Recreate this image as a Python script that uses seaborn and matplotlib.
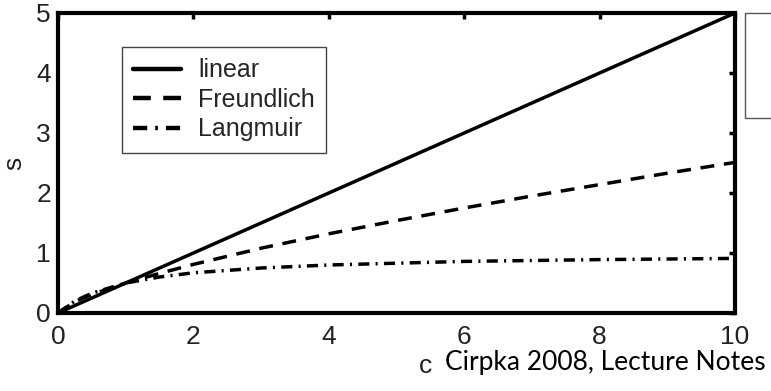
import numpy as np
import pandas as pd
import seaborn as sns
import matplotlib.pyplot as plt
from matplotlib.patches import Rectangle

# values
c_vals = [0, 0.25, 0.5, 1, 1.5, 2, 3, 4, 5, 6, 7, 8, 9, 10]
s_linear = [0, 0.125, 0.25, 0.5, 0.75, 1.0, 1.5, 2.0, 2.5, 3.0, 3.5, 4.0, 4.5, 5.0]
s_freundlich = [0, 0.19, 0.31, 0.5, 0.66, 0.81, 1.08, 1.32, 1.54, 1.75, 1.95, 2.14, 2.33, 2.51]
s_langmuir = [0, 0.2, 0.33, 0.5, 0.6, 0.67, 0.75, 0.8, 0.83, 0.86, 0.875, 0.89, 0.9, 0.91]
names = ['linear', 'Freundlich', 'Langmuir']
x_ticks = [0, 2, 4, 6, 8, 10]
y_ticks = [0, 1, 2, 3, 4, 5]

df = pd.DataFrame({
    'c': c_vals * 3,
    's': s_linear + s_freundlich + s_langmuir,
    'model': [n for n in names for _ in c_vals],
})

sns.set_style('white')
plt.rcParams['font.family'] = ['Liberation Sans', 'DejaVu Sans']

fig = plt.figure(figsize=(7.71, 3.91), dpi=100)
ax = fig.add_axes([58/771, 1-313/391, (735-58)/771, 300/391])

dash_styles = {'linear': '', 'Freundlich': (4, 2.8), 'Langmuir': (3.2, 1.8, 0.6, 1.8)}
sns.lineplot(data=df, x='c', y='s', style='model', dashes=dash_styles,
             color='black', linewidth=2.5, ax=ax)

ax.set_xlim(0, 10)
ax.set_ylim(0, 5)
ax.set_xticks(x_ticks)
ax.set_yticks(y_ticks)
for sp in ax.spines.values():
    sp.set_linewidth(3)
    sp.set_color('black')
    sp.set_visible(True)
ax.tick_params(direction='in', length=4, width=2.5, top=True, right=True,
               labelsize=19, labelcolor='#222222', color='black')
ax.tick_params(axis='x', pad=9)
ax.tick_params(axis='y', pad=5)

ax.set_xlabel('')
ax.set_ylabel('s', fontsize=19, color='#222222')
ax.yaxis.set_label_coords((26-58)/677, 0.5)

leg = ax.legend(loc='upper left', bbox_to_anchor=((122-58)/677, (313-47)/300),
                borderaxespad=0, fontsize=18, frameon=True, fancybox=False,
                framealpha=1, edgecolor='#444444', handlelength=1.9,
                handletextpad=0.7, borderpad=0.45, labelspacing=0.22, title=None)
leg.get_frame().set_linewidth(1.0)
for line in leg.get_lines():
    line.set_linewidth(3.2)

# partially visible box at the right edge
fig.patches.append(Rectangle((745/771, 1-118/391), 0.2, 105/391,
                             transform=fig.transFigure, fill=False,
                             edgecolor='#555555', linewidth=1))

fig.text(426/771, 1-373/391, 'c', fontsize=19, color='#222222',
         ha='center', va='baseline')
fig.text(445/771, 1-370/391, 'Cirpka 2008, Lecture Notes', fontsize=19,
         family='Lato', color='black', ha='left', va='baseline')

plt.savefig('out.png', dpi=100)
